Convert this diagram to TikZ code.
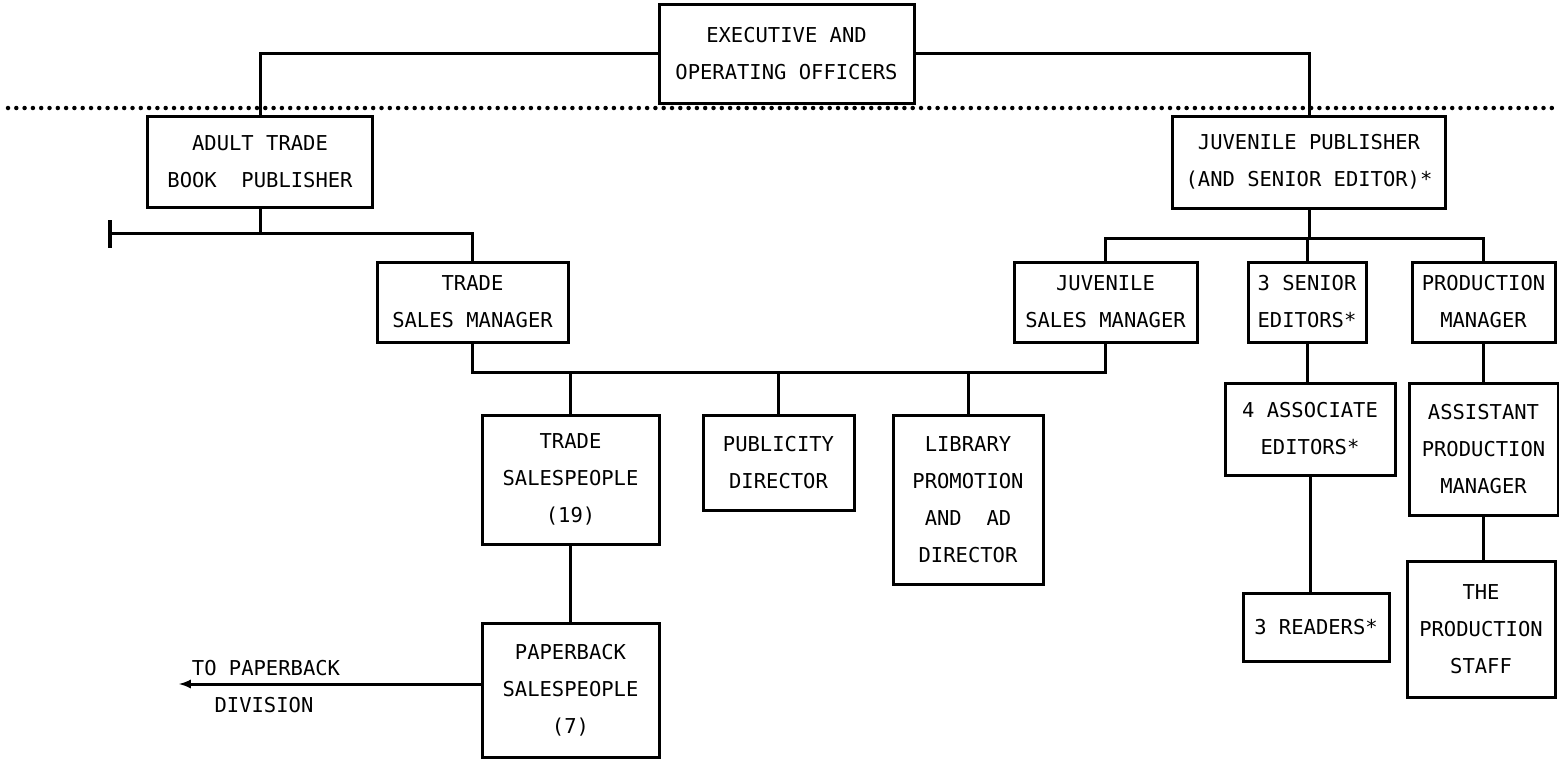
\documentclass[tikz,border=0pt]{standalone}
\usepackage{fontspec}
\newfontfamily\orgfont{DejaVu Sans Mono}
\usepackage{tikz}

\begin{document}
\begin{tikzpicture}[x=1pt, y=-1pt,
  orgbox/.style={draw, line width=3pt, align=center, inner sep=0pt, font={\orgfont\fontsize{20.5}{37}\selectfont}},
  orglabel/.style={inner sep=0pt, font={\orgfont\fontsize{20.5}{37}\selectfont}},
  orgline/.style={line width=3pt},
  dotrule/.style={line width=4.5pt, line cap=round, dash pattern=on 0pt off 8.3pt}]
\useasboundingbox (0,0) rectangle (1559,760);
\node[orgbox, minimum width=255pt, minimum height=98pt] (exec) at (786.5,54) {EXECUTIVE AND\\OPERATING OFFICERS};
\node[orgbox, minimum width=225pt, minimum height=91pt] (adult) at (260,161.5) {ADULT TRADE\\BOOK\ \ PUBLISHER};
\node[orgbox, minimum width=273pt, minimum height=92pt] (juvpub) at (1309,162) {JUVENILE PUBLISHER\\(AND SENIOR EDITOR)*};
\node[orgbox, minimum width=191pt, minimum height=80pt] (tsm) at (472.5,302) {TRADE\\SALES MANAGER};
\node[orgbox, minimum width=183pt, minimum height=80pt] (jsm) at (1105.5,302) {JUVENILE\\SALES MANAGER};
\node[orgbox, minimum width=118pt, minimum height=80pt] (sened) at (1307,302) {3 SENIOR\\EDITORS*};
\node[orgbox, minimum width=143pt, minimum height=80pt] (prodman) at (1483.5,302) {PRODUCTION\\MANAGER};
\node[orgbox, minimum width=177pt, minimum height=129pt] (tradesp) at (570.5,479.5) {TRADE\\SALESPEOPLE\\(19)};
\node[orgbox, minimum width=151pt, minimum height=95pt] (publicity) at (778.5,462.5) {PUBLICITY\\DIRECTOR};
\node[orgbox, minimum width=150pt, minimum height=169pt] (library) at (968,499.5) {LIBRARY\\PROMOTION\\AND\ \ AD\\DIRECTOR};
\node[orgbox, minimum width=177pt, minimum height=134pt] (paperback) at (570.5,690) {PAPERBACK\\SALESPEOPLE\\(7)};
\node[orgbox, minimum width=170pt, minimum height=92pt] (assoced) at (1310,429) {4 ASSOCIATE\\EDITORS*};
\node[orgbox, minimum width=149pt, minimum height=132pt] (asstprod) at (1483.5,449) {ASSISTANT\\PRODUCTION\\MANAGER};
\node[orgbox, minimum width=146pt, minimum height=68pt] (readers) at (1316,627) {3 READERS*};
\node[orgbox, minimum width=148pt, minimum height=136pt] (prodstaff) at (1481,629) {THE\\PRODUCTION\\STAFF};
\node[orglabel] (tolabel) at (266,668) {TO PAPERBACK};
\node[orglabel] (divlabel) at (264,705) {DIVISION};
\coordinate (dotl) at (8,108);
\coordinate (dotr) at (1559,108);
\coordinate (adultbus) at (110,233);
\coordinate (tickup) at (110,220);
\coordinate (tickdown) at (110,248);
\coordinate (salesbus) at (472,372);
\coordinate (juvbus) at (1309,238);
\coordinate (pbtip) at (179,684);
\draw[dotrule] (dotl) -- (dotr);
\draw[orgline] (exec.west) -| (adult.north);
\draw[orgline] (exec.east) -| (juvpub.north);
\draw[orgline] (adult.south) -- (adult.south |- adultbus);
\draw[orgline] (adultbus) -| (tsm.north);
\draw[line width=4pt] (tickup) -- (tickdown);
\draw[orgline] (tsm.south) -- (tsm.south |- salesbus) -| (jsm.south);
\draw[orgline] (tradesp.north) -- (tradesp.north |- salesbus);
\draw[orgline] (publicity.north) -- (publicity.north |- salesbus);
\draw[orgline] (library.north) -- (library.north |- salesbus);
\draw[orgline] (tradesp.south) -- (paperback.north);
\draw[orgline, ->, >=latex] (paperback.west |- pbtip) -- (pbtip);
\draw[orgline] (juvpub.south) -- (juvpub.south |- juvbus);
\draw[orgline] (jsm.north) |- (juvbus) -| (prodman.north);
\draw[orgline] (sened.north) -- (sened.north |- juvbus);
\draw[orgline] (sened.south) -- (sened.south |- assoced.north);
\draw[orgline] (assoced.south) -- (assoced.south |- readers.north);
\draw[orgline] (prodman.south) -- (asstprod.north);
\draw[orgline] (asstprod.south) -- (asstprod.south |- prodstaff.north);
\end{tikzpicture}
\end{document}
